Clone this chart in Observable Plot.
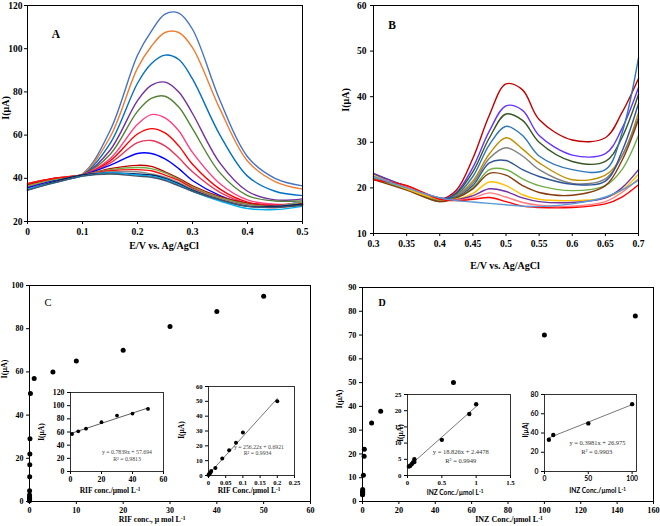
<!DOCTYPE html>
<html><head><meta charset="utf-8">
<script src="https://cdn.jsdelivr.net/npm/d3@7"></script>
<script src="https://cdn.jsdelivr.net/npm/@observablehq/plot@0.6"></script>
<style>
body{margin:0;background:#fff}
#root{position:relative;width:660px;height:526px;overflow:hidden;font-family:"Liberation Serif",serif;background:#fff}
#root svg{position:absolute}
.t{position:absolute;white-space:nowrap;font-weight:bold;color:#000;line-height:1;transform:translate(-50%,-50%)}
.t.v{transform:translate(-50%,-50%) rotate(-90deg)}
.sup{font-size:0.7em;vertical-align:0.45em}
</style></head>
<body><div id="root"></div>
<script>
// ---------- Panel A data ----------
const aX = [0,0.05,0.1,0.15,0.2,0.225,0.25,0.275,0.3,0.35,0.4,0.45,0.5];
const aCurves = [
  [35,38.5,42,62,97,108,116,116.5,109,76,50,40,36.5],
  [35.5,38.5,42,59,91,101,107.5,107.5,100.5,72,48,38.5,35],
  [36,39,41.5,56,84,93,97,95,86,60,41,34,32],
  [36.5,39.5,41.5,53,76,83,84.5,80,70,47,34,30,30.5],
  [36,39,41.5,51,71,77,78,73,63,42.5,32,29.5,29.5],
  [37,39.5,41.5,49,65,69.5,68,62,52,37.5,30,28,28.5],
  [37.5,40,41.5,48,60.5,63,61,55,46.5,35,29,27.5,29],
  [36,39.5,41.5,47,56.5,57.5,55,49.5,43,33.5,28.5,27.5,28],
  [35.5,39,41.5,46,51.5,51.5,49,44.5,39,32,28,27,28],
  [37,40,41.5,44.5,46,45.5,43,40,36.5,31.5,28.5,27,28.5],
  [36.5,39.5,41.5,44,45,44.5,42.5,39.5,36,31,28,27,29],
  [37.5,40,41.5,43.5,44,43.5,41.5,39,35.5,30.5,27.5,26.5,28],
  [35,38.5,41.5,43,43,42,40.5,38,35,30.5,27.5,27,29.5],
  [34.5,38.5,41.5,42.5,42,41.5,40,37.5,34.5,30,27,27,28],
  [35,38,41,42.5,41.5,41,39.5,37,34,29.5,26,25.5,27],
  [34.5,38,41,42,41,40.5,39,36.5,34,30,27,26.5,27.5]
];
const aColors = ["#4472C4","#ED7D31","#0070C0","#7030A0","#548235","#FF3F7F","#FF0000","#E8365D","#0000FF","#C00000","#70AD47","#FF1010","#8C8C8C","#002060","#00B0F0","#44546A"];
const aXTicks = [0,0.1,0.2,0.3,0.4,0.5];
const aYTicks = [20,40,60,80,100,120];

// ---------- Panel B data ----------
const bX = [0.3,0.35,0.4,0.425,0.45,0.475,0.5,0.525,0.55,0.6,0.65,0.675,0.7];
const bCurves = [
  [22,20.5,17.5,19.5,26.5,36,42.8,41.5,35,30.5,31,36.5,44],
  [22.5,20,17.3,19,24.5,32.5,38,37,31.5,27.2,27.5,33,42],
  [22.2,20,17.2,18.8,23.5,31,36.2,34.8,30,25.8,25.8,31,40.5],
  [23,20.3,17.5,18.5,22.5,29.5,33.5,31.5,27,24,24,32,48.5],
  [22.5,19.8,17,18.3,21.5,27.5,31,28.5,25.5,21.8,22.8,27,36.5],
  [22,19.8,17,18.2,21,26.5,28.8,27,24,21,22,27,35.5],
  [22.8,20.2,17.8,18,20.5,25.5,26,24,22.5,20.8,21.5,28,38.5],
  [22.3,19.7,17.2,17.8,20,24,24,22,20.5,19.4,20.5,24,31.5],
  [21.8,19.5,17,17.8,19.8,23.2,22.8,20.5,19,18.4,20.5,26,35],
  [22.8,19.8,17.5,17.5,18.8,21.3,20.5,18.5,17.5,17.2,17.8,19.5,23],
  [23.2,20.3,17.8,17.4,18.3,19.8,19.2,17.8,17,16.8,17.8,20,24],
  [22.5,20.2,17.6,17.3,17.8,18.9,18,16.8,16.2,16,17,19,22],
  [21.8,20.5,17.5,17.2,17.5,17.9,17,16,15.7,15.7,16.5,18,20.7],
  [22.5,20,17.8,17.2,16.9,16.6,16.3,16,15.9,16.5,18,19.5,21.7]
];
const bColors = ["#C00000","#6633FF","#375623","#2E75B6","#BF8F00","#7F7F7F","#2F5597","#70AD47","#843C0C","#FFC000","#7030A0","#FF7C80","#FF0000","#5B9BD5"];
const bXTicks = [0.3,0.35,0.4,0.45,0.5,0.55,0.6,0.65,0.7];
const bYTicks = [10,20,30,40,50,60];

// ---------- Panel C data ----------
const cX = [0,0.002,0.004,0.006,0.008,0.02,0.04,0.06,0.08,0.1,0.2,1,5,10,20,30,40,50];
const cY = [0.3,1,1.5,2,3,5,11.5,17,22,29,50,57,60,65,70,81,88,95];
const cXTicks = [0,10,20,30,40,50,60];
const cYTicks = [0,20,40,60,80,100];
const c1X = [1,5,10,20,30,40,50];
const c1Y = [57,61,65,75,85,88,95];
const c1TrendX = [0.5,50];
const c1TrendY = [58,96.5];
const c1XTicks = [0,20,40,60];
const c1YTicks = [0,20,40,60,80,100,120];
const c2X = [0,0.002,0.004,0.006,0.008,0.02,0.04,0.06,0.08,0.1,0.2];
const c2Y = [0.3,1,1.5,2,3,5,11.5,17,22,29,50];
const c2TrendX = [0,0.2];
const c2TrendY = [0.7,51.9];
const c2XTicks = [0,0.05,0.1,0.15,0.2,0.25];
const c2YTicks = [0,10,20,30,40,50,60];

// ---------- Panel D data ----------
const dX = [0.02,0.04,0.06,0.08,0.1,0.1,0.5,0.9,1,5,10,50,100,150];
const dY = [2.8,3,3.5,4,4.2,5,11,19,22,33,38,50,70,78];
const dXTicks = [0,20,40,60,80,100,120,140,160];
const dYTicks = [0,10,20,30,40,50,60,70,80,90];
const d1X = [0.02,0.04,0.06,0.08,0.1,0.1,0.5,0.9,1];
const d1Y = [2.8,3,3.5,4,4.2,5,11,19,22];
const d1TrendX = [0.02,1];
const d1TrendY = [2.8,21.3];
const d1XTicks = [0,0.5,1,1.5];
const d1YTicks = [0,5,10,15,20,25];
const d2X = [5,10,50,100];
const d2Y = [33,38,50,70];
const d2TrendX = [5,100];
const d2TrendY = [35,69.5];
const d2XTicks = [0,50,100];
const d2YTicks = [0,20,40,60,80];

// ---------- helpers ----------
const root = document.getElementById("root");
const SERIF = '"Liberation Serif", "Times New Roman", serif';
const SANS = 'Lato, "Liberation Sans", sans-serif';
const fmt = d => String(+(+d).toFixed(6));
function rowsOf(xs, curves){ return curves.flatMap((v,i)=>v.map((y,j)=>({x:xs[j], y, s:i}))); }
function pts(xs, ys){ return xs.map((x,i)=>({x, y:ys[i]})); }
function mk(o){
  const svg = Plot.plot({
    width:o.w, height:o.h, marginLeft:o.ml, marginRight:o.mr, marginTop:o.mt, marginBottom:o.mb,
    x:{domain:o.xd, ticks:o.xt, tickFormat:fmt, tickSize:3, tickPadding:o.xp ?? 2, label:null},
    y:{domain:o.yd, ticks:o.yt, tickFormat:fmt, tickSize:3, tickPadding:o.yp ?? 2, label:null},
    color:{type:"identity"},
    style:{fontFamily:o.font || SERIF, fontWeight:"bold", fontSize:o.fs+"px", color:"#000", background:"transparent", overflow:"visible"},
    marks:o.marks
  });
  svg.style.position = "absolute";
  svg.style.left = o.left+"px";
  svg.style.top = o.top+"px";
  root.appendChild(svg);
}
function txt(html, x, y, fs, opt={}){
  const d = document.createElement("div");
  d.className = "t" + (opt.rot ? " v" : "");
  d.innerHTML = html;
  d.style.left = x+"px"; d.style.top = y+"px"; d.style.fontSize = fs+"px";
  if (opt.font) d.style.fontFamily = opt.font;
  if (opt.weight) d.style.fontWeight = opt.weight;
  if (opt.color) d.style.color = opt.color;
  root.appendChild(d);
}
const inv = '<span class="sup">-1</span>';

// ---------- Panel A ----------
mk({left:0, top:0, w:330, h:250, ml:27, mr:28, mt:5, mb:29, fs:9.5, xp:4, yp:2,
  xd:[0,0.5], yd:[20,120], xt:aXTicks, yt:aYTicks,
  marks:[
    Plot.line(rowsOf(aX,aCurves), {x:"x", y:"y", z:"s", stroke:d=>aColors[d.s], curve:"catmull-rom", strokeWidth:1.4}),
    Plot.frame({stroke:"#000", strokeWidth:1})
  ]});
txt("A", 56, 35, 11.5);
txt("I(μA)", 5.5, 108, 10, {rot:true});
txt("E/V vs. Ag/AgCl", 164, 246, 10);

// ---------- Panel B ----------
mk({left:330, top:0, w:330, h:258, ml:43, mr:22, mt:5, mb:25, fs:9.5, xp:4, yp:4,
  xd:[0.3,0.7], yd:[10,60], xt:bXTicks, yt:bYTicks,
  marks:[
    Plot.line(rowsOf(bX,bCurves), {x:"x", y:"y", z:"s", stroke:d=>bColors[d.s], curve:"catmull-rom", strokeWidth:1.4}),
    Plot.frame({stroke:"#000", strokeWidth:1})
  ]});
txt("B", 392, 26, 11.5);
txt("I(μA)", 345.5, 100, 10, {rot:true});
txt("E/V vs. Ag/AgCl", 505, 266, 10);

// ---------- Panel C ----------
mk({left:0, top:270, w:330, h:256, ml:29, mr:20, mt:15, mb:25, fs:8, xp:3, yp:3,
  xd:[0,60], yd:[0,100], xt:cXTicks, yt:cYTicks,
  marks:[
    Plot.frame({stroke:"#000", strokeWidth:1}),
    Plot.dot(pts(cX,cY), {x:"x", y:"y", r:2.5, fill:"#000"})
  ]});
txt("C", 48, 303, 10.5, {weight:"normal"});
txt("I(μA)", 4.5, 369, 8, {rot:true});
txt("RIF conc., μ mol L"+inv, 152, 520, 7.8);

mk({left:40, top:380, w:133, h:111, ml:30, mr:10, mt:12, mb:20, fs:7.8, xp:2, yp:3,
  xd:[0,60], yd:[0,120], xt:c1XTicks, yt:c1YTicks,
  marks:[
    Plot.frame({fill:"#fff"}),
    Plot.line(pts(c1TrendX,c1TrendY), {x:"x", y:"y", stroke:"#333", strokeWidth:0.8}),
    Plot.dot(pts(c1X,c1Y), {x:"x", y:"y", r:1.9, fill:"#000"}),
    Plot.frame({stroke:"#000", strokeWidth:0.8})
  ]});
txt("I(μA)", 42, 432, 7.5, {rot:true});
txt("RIF conc./μmol L"+inv, 110, 490.5, 7.5);
txt("y = 0.7839x + 57.694", 127, 452.5, 5.8, {weight:"normal", color:"#444"});
txt("R² = 0.9813", 127, 459.5, 5.8, {weight:"normal", color:"#444"});

mk({left:180, top:375, w:126, h:120, ml:28, mr:12, mt:11, mb:20, fs:6.6, xp:2, yp:3,
  xd:[0,0.25], yd:[0,60], xt:c2XTicks, yt:c2YTicks,
  marks:[
    Plot.frame({fill:"#fff"}),
    Plot.line(pts(c2TrendX,c2TrendY), {x:"x", y:"y", stroke:"#555", strokeWidth:0.8}),
    Plot.dot(pts(c2X,c2Y), {x:"x", y:"y", r:2, fill:"#000"}),
    Plot.frame({stroke:"#000", strokeWidth:0.8})
  ]});
txt("I(μA)", 182, 430, 7.5, {rot:true});
txt("RIF Conc./μmol L"+inv, 249, 490.5, 7.5);
txt("y = 256.22x + 0.6921", 259, 447.7, 5.8, {weight:"normal", color:"#444"});
txt("R² = 0.9934", 257.5, 454.3, 5.8, {weight:"normal", color:"#444"});

// ---------- Panel D ----------
mk({left:330, top:270, w:330, h:256, ml:32, mr:7, mt:17, mb:25, fs:8.3, xp:3, yp:3,
  xd:[0,160], yd:[0,90], xt:dXTicks, yt:dYTicks,
  marks:[
    Plot.frame({stroke:"#000", strokeWidth:1}),
    Plot.dot(pts(dX,dY), {x:"x", y:"y", r:2.5, fill:"#000"})
  ]});
txt("D", 382, 303, 10);
txt("I(μA)", 340, 399, 8, {rot:true});
txt("INZ Conc./μmol L"+inv, 509, 520, 8);

mk({left:380, top:382, w:140, h:113, ml:27, mr:10, mt:12, mb:20, fs:6.8, xp:2, yp:3,
  xd:[0,1.5], yd:[0,25], xt:d1XTicks, yt:d1YTicks,
  marks:[
    Plot.frame({fill:"#fff"}),
    Plot.line(pts(d1TrendX,d1TrendY), {x:"x", y:"y", stroke:"#555", strokeWidth:0.8}),
    Plot.dot(pts(d1X,d1Y), {x:"x", y:"y", r:2.2, fill:"#000"}),
    Plot.frame({stroke:"#000", strokeWidth:0.8})
  ]});
txt("I(μA)", 401, 433, 7.5, {rot:true});
txt("INZ Conc./μmol L"+inv, 455, 491.5, 6.6, {font:SANS});
txt("y = 18.826x + 2.4478", 460.8, 451.7, 6.5, {weight:"normal", color:"#333"});
txt("R² = 0.9949", 460.8, 461, 6.5, {weight:"normal", color:"#333"});

mk({left:515, top:382, w:131, h:109, ml:29, mr:10, mt:12, mb:20, fs:6.8, xp:2, yp:3, font:SANS,
  xd:[0,105], yd:[0,80], xt:d2XTicks, yt:d2YTicks,
  marks:[
    Plot.frame({fill:"#fff"}),
    Plot.line(pts(d2TrendX,d2TrendY), {x:"x", y:"y", stroke:"#555", strokeWidth:0.8}),
    Plot.dot(pts(d2X,d2Y), {x:"x", y:"y", r:2.2, fill:"#000"}),
    Plot.frame({stroke:"#000", strokeWidth:0.8})
  ]});
txt("I(μA)", 525, 430, 7, {rot:true, font:SANS});
txt("INZ Conc./μmol L"+inv, 597.5, 490, 6.6, {font:SANS});
txt("y = 0.3981x + 26.975", 597.5, 442.7, 6.5, {weight:"normal", color:"#333"});
txt("R² = 0.9903", 596.7, 452.3, 6.5, {weight:"normal", color:"#333"});
</script>
</body></html>
